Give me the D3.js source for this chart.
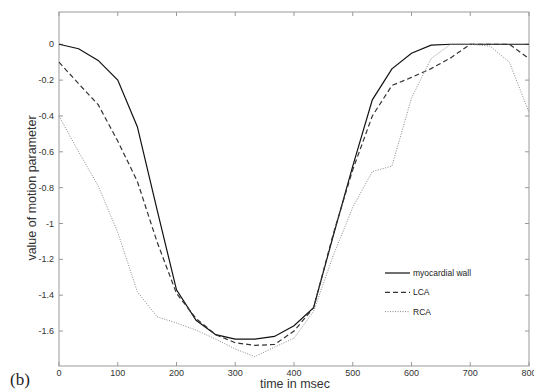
<!DOCTYPE html>
<html>
<head>
<meta charset="utf-8">
<script src="https://d3js.org/d3.v7.min.js"></script>
<style>
    body { margin: 0; background: #fff; }
    .tick-label { font-family: Arial, "Liberation Sans", sans-serif; font-size: 9px; fill: #333; }
    .axis-title { font-family: Arial, "Liberation Sans", sans-serif; font-size: 12.5px; fill: #333; }
    .legend text { font-family: Arial, "Liberation Sans", sans-serif; font-size: 8.5px; fill: #222; }
</style>
</head>
<body>
<script>
// samples every 800/24 ms
let times = d3.range(25).map(i => i * 800 / 24);

let wall = [0, -0.025, -0.09, -0.2, -0.46, -0.92, -1.37, -1.54, -1.62, -1.645, -1.645, -1.63,
    -1.57, -1.47, -1.07, -0.68, -0.31, -0.137, -0.05, -0.005, 0, 0, 0, 0, 0];
let lca = [-0.1, -0.22, -0.337, -0.54, -0.765, -1.10, -1.39, -1.53, -1.62, -1.665, -1.68, -1.675,
    -1.60, -1.47, -1.06, -0.70, -0.40, -0.23, -0.185, -0.136, -0.076, 0, 0, 0, -0.08];
let rca = [-0.4, -0.6, -0.79, -1.05, -1.38, -1.52, -1.555, -1.595, -1.645, -1.70, -1.743, -1.69,
    -1.64, -1.49, -1.18, -0.91, -0.71, -0.68, -0.30, -0.08, 0, 0, -0.01, -0.10, -0.38];

let seriesNames = ["myocardial wall", "LCA", "RCA"];
let xTicks = [0, 100, 200, 300, 400, 500, 600, 700, 800];
let yTicks = [0, -0.2, -0.4, -0.6, -0.8, -1, -1.2, -1.4, -1.6];

let W = 534, H = 390;
let pL = 59, pR = 529, pT = 12, pB = 366;

let svg = d3.select("body").append("svg")
    .attr("width", W)
    .attr("height", H);

let x = d3.scaleLinear().domain([0, 800]).range([pL, pR]);
let y = d3.scaleLinear().domain([-1.795, 0.18]).range([pB, pT]);

// box
svg.append("rect")
    .attr("x", pL).attr("y", pT)
    .attr("width", pR - pL).attr("height", pB - pT)
    .attr("fill", "none").attr("stroke", "#999").attr("stroke-width", 1);

// inward ticks on all four sides (matlab style)
let tl = 4;
xTicks.forEach(t => {
    svg.append("line").attr("x1", x(t)).attr("x2", x(t)).attr("y1", pB).attr("y2", pB - tl)
        .attr("stroke", "#999");
    svg.append("line").attr("x1", x(t)).attr("x2", x(t)).attr("y1", pT).attr("y2", pT + tl)
        .attr("stroke", "#999");
});
yTicks.forEach(t => {
    svg.append("line").attr("x1", pL).attr("x2", pL + tl).attr("y1", y(t)).attr("y2", y(t))
        .attr("stroke", "#999");
    svg.append("line").attr("x1", pR).attr("x2", pR - tl).attr("y1", y(t)).attr("y2", y(t))
        .attr("stroke", "#999");
});

svg.selectAll("text.xt")
    .data(xTicks)
    .join("text")
    .attr("class", "tick-label xt")
    .attr("x", d => x(d))
    .attr("y", pB + 9.5)
    .attr("text-anchor", "middle")
    .text(d => d);

svg.selectAll("text.yt")
    .data(yTicks)
    .join("text")
    .attr("class", "tick-label yt")
    .attr("x", pL - 5)
    .attr("y", d => y(d) + 3)
    .attr("text-anchor", "end")
    .text(d => d);

// lines
let line = d3.line()
    .x((d, i) => x(times[i]))
    .y(d => y(d));

let styles = [
    { data: wall, stroke: "#111", width: 1.2, dash: null },
    { data: lca, stroke: "#333", width: 1.2, dash: "5,3" },
    { data: rca, stroke: "#888", width: 1, dash: "1,1.5" }
];

styles.forEach(s => {
    svg.append("path")
        .attr("d", line(s.data))
        .attr("fill", "none")
        .attr("stroke", s.stroke)
        .attr("stroke-width", s.width)
        .attr("stroke-dasharray", s.dash);
});

// legend
let legend = svg.append("g").attr("class", "legend");
seriesNames.forEach((name, i) => {
    let ly = 273 + i * 19.3;
    legend.append("line")
        .attr("x1", 385).attr("x2", 410).attr("y1", ly).attr("y2", ly)
        .attr("stroke", styles[i].stroke)
        .attr("stroke-width", styles[i].width)
        .attr("stroke-dasharray", styles[i].dash);
    legend.append("text")
        .attr("x", 413).attr("y", ly + 3)
        .text(name);
});

// axis titles
svg.append("text")
    .attr("class", "axis-title")
    .attr("x", 295).attr("y", 388)
    .attr("text-anchor", "middle")
    .text("time in msec");

svg.append("text")
    .attr("class", "axis-title")
    .attr("transform", "translate(36,188) rotate(-90)")
    .attr("text-anchor", "middle")
    .text("value of motion parameter");

svg.append("text")
    .attr("x", 10).attr("y", 385)
    .attr("font-family", "'Liberation Serif', 'DejaVu Serif', serif")
    .attr("font-size", 17)
    .attr("fill", "#222")
    .text("(b)");
</script>
</body>
</html>
